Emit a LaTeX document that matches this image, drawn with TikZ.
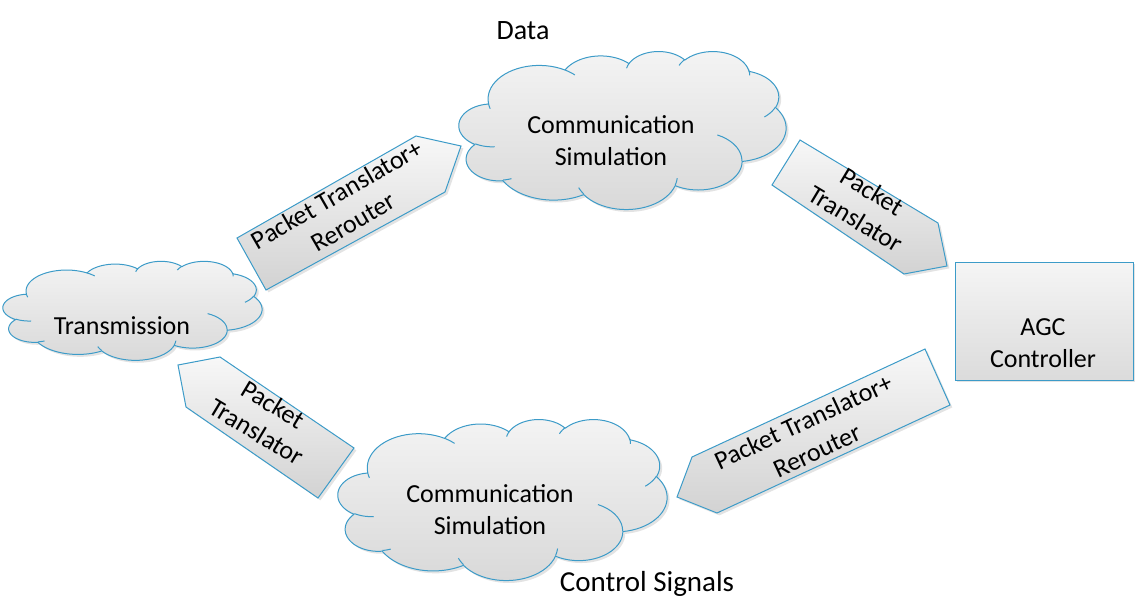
\documentclass[tikz,border=0pt]{standalone}
\usepackage{fontspec}
\setmainfont{Carlito}
\usetikzlibrary{shadows}
\definecolor{edge}{RGB}{60,155,200}
\let\cldt\relax
\gdef\cloudspec{}
\gdef\seamspec{}
\gdef\cldx{9.028}\gdef\cldy{33.264}
\newcommand\addarc[4]{%
  \pgfmathsetmacro\cldts{atan2((#1)*sin(#3),(#2)*cos(#3))}%
  \pgfmathsetmacro\cldtt{atan2((#1)*sin(#3+#4),(#2)*cos(#3+#4))}%
  \pgfmathsetmacro\cldte{\cldts+mod(\cldtt-\cldts+720,360)}%
  \pgfmathsetmacro\cldcx{\cldx-(#1)*cos(\cldts)}%
  \pgfmathsetmacro\cldcy{\cldy-(#2)*sin(\cldts)}%
  \xdef\cloudspec{\cloudspec -- plot[domain=\cldts:\cldte,samples=24,variable=\cldt] ({\cldcx+#1*cos(\cldt)},{\cldcy+#2*sin(\cldt)})}%
  \pgfmathsetmacro\cldnx{\cldcx+(#1)*cos(\cldte)}%
  \pgfmathsetmacro\cldny{\cldcy+(#2)*sin(\cldte)}%
  \xdef\cldx{\cldnx}\xdef\cldy{\cldny}%
}
\newcommand\addseam[6]{%
  \pgfmathsetmacro\cldts{atan2((#3)*sin(#5),(#4)*cos(#5))}%
  \pgfmathsetmacro\cldtt{atan2((#3)*sin(#5+#6),(#4)*cos(#5+#6))}%
  \pgfmathsetmacro\cldte{\cldts+mod(\cldtt-\cldts+720,360)}%
  \pgfmathsetmacro\cldcx{#1-(#3)*cos(\cldts)}%
  \pgfmathsetmacro\cldcy{#2-(#4)*sin(\cldts)}%
  \xdef\seamspec{\seamspec plot[domain=\cldts:\cldte,samples=10,variable=\cldt] ({\cldcx+#3*cos(\cldt)},{\cldcy+#4*sin(\cldt)})}%
}
\addarc{15.632}{21.273}{-190.4875}{123.7805}
\addarc{12.345}{16.822}{-144.1024}{89.9452}
\addarc{10.104}{13.762}{-145.8079}{99.7230}
\addarc{11.243}{15.266}{-130.9861}{117.2417}
\addarc{12.345}{16.836}{-78.7089}{109.0269}
\addarc{15.683}{21.343}{-46.2673}{130.2690}
\addarc{13.391}{18.211}{0.6250}{114.0333}
\addarc{15.630}{21.331}{22.4516}{115.1726}
\addarc{17.870}{24.405}{66.2426}{75.7110}
\addarc{10.093}{13.699}{-274.9421}{146.7356}
\addarc{10.058}{13.762}{-246.8285}{152.5189}
\addseam{10.863}{60.595}{10.058}{13.762}{86.742}{26.430}
\addseam{16.037}{80.785}{10.093}{13.699}{73.610}{11.447}
\addseam{38.144}{90.486}{15.630}{21.331}{137.624}{14.081}
\addseam{66.729}{80.442}{15.630}{21.331}{6.453}{15.998}
\addseam{79.002}{53.134}{13.391}{18.211}{-70.292}{70.917}
\addseam{96.755}{35.542}{12.345}{16.836}{30.318}{27.752}
\addseam{88.713}{12.560}{11.243}{15.266}{-13.744}{14.859}
\addseam{67.310}{9.148}{11.243}{15.266}{-149.181}{18.195}
\addseam{51.252}{10.926}{10.104}{13.762}{-163.494}{17.686}
\addseam{32.407}{12.019}{15.632}{21.273}{-66.707}{12.319}
\addseam{9.553}{36.549}{15.632}{21.273}{157.654}{11.858}
\newcommand\drawcloud[4]{%
  \pgfmathsetmacro\cldw{#3/100}\pgfmathsetmacro\cldh{#4/100}%
  \begin{scope}[shift={(#1,#2)}, x=\cldw pt, y=-\cldh pt]
    \edef\cldcmd{\noexpand\path[cloudfill] (9.028,33.264) \cloudspec -- cycle;}\cldcmd
    \edef\cldcmd{\noexpand\path[seam] \seamspec;}\cldcmd
  \end{scope}}
\begin{document}
\begin{tikzpicture}[x=1pt,y=-1pt,
  every node/.style={font=\fontsize{26}{32}\selectfont, align=center},
  cloudfill/.style={draw=edge, line width=1pt, line join=round,
    top color=gray!9, bottom color=gray!30, drop shadow={opacity=0.22}},
  seam/.style={draw=edge, line width=1pt},
  arrowbox/.style={draw=edge, line width=1pt, top color=gray!6, bottom color=gray!35,
    drop shadow={opacity=0.22}},
  txt/.style={inner sep=0pt}
]
\useasboundingbox (0,0) rectangle (1144,616);
% clouds
\drawcloud{459}{51}{327}{158}
\drawcloud{3}{261}{259}{99}
\drawcloud{338}{419}{329}{161}
% box
\node[draw=edge, line width=1pt, top color=gray!8, bottom color=gray!28,
  minimum width=178pt, minimum height=118pt, drop shadow={opacity=0.22}] (agc) at (1044,321) {};
% block arrows
\path[arrowbox] (266,290) -- (237,238) -- (416,136) -- (461,146) -- (445,192) -- cycle;
\path[arrowbox] (772,185) -- (800,140) -- (938,223) -- (947,266) -- (904,274) -- cycle;
\path[arrowbox] (178,365) -- (220,357) -- (354,448) -- (318,498) -- (186,407) -- cycle;
\path[arrowbox] (925,349) -- (950,405) -- (717,513) -- (677,497) -- (692,457) -- cycle;
% texts
\node[txt] (tc1) at (611,141) {Communication\\Simulation};
\node[txt] (tc2) at (122,326) {Transmission};
\node[txt] (tc3) at (490,510) {Communication\\Simulation};
\node[txt] (tagc) at (1043,343) {AGC\\Controller};
\node[txt, rotate=30] (ta1) at (345,208) {Packet Translator+\\Rerouter};
\node[txt, rotate=-31] (ta2) at (864,205) {Packet\\Translator};
\node[txt, rotate=-31] (ta3) at (265,418) {Packet\\Translator};
\node[txt, rotate=25] (ta4) at (810,436) {Packet Translator+\\Rerouter};
\node[txt, font=\fontsize{28}{34}\selectfont] (data) at (523,31) {Data};
\node[txt, font=\fontsize{29}{35}\selectfont] (ctrl) at (647,584) {Control Signals};
\end{tikzpicture}
\end{document}
